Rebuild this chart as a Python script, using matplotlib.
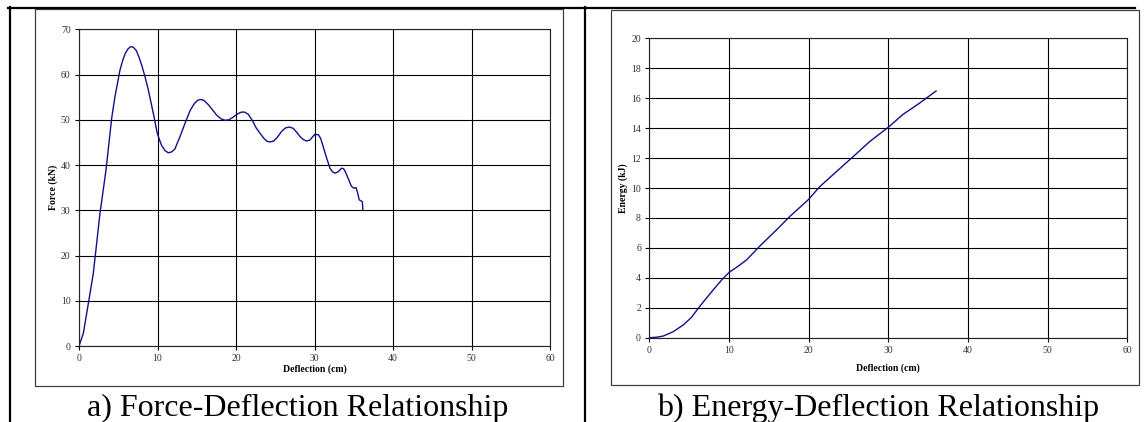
import matplotlib
matplotlib.use("Agg")
import matplotlib.pyplot as plt
from matplotlib.lines import Line2D
from matplotlib.patches import Rectangle

# force-deflection test record (cm, kN)
defl_force = [0.0, 0.55, 1.19, 1.82, 2.67, 3.44, 4.16, 4.58, 5.22, 5.6, 5.9, 6.25,
              6.62, 6.95, 7.3, 7.65, 7.98, 8.4, 8.83, 9.47, 9.97, 10.5, 10.95,
              11.38, 11.8, 12.2, 12.87, 13.5, 14.14, 14.7, 15.1, 15.5, 15.9, 16.5,
              17.0, 17.5, 18.1, 18.6, 19.1, 19.65, 20.2, 20.7, 21.1, 21.57, 22.1,
              22.6, 23.5, 23.9, 24.3, 24.8, 25.2, 25.8, 26.3, 26.8, 27.3, 27.7,
              28.15, 28.6, 29.0, 29.4, 29.8, 30.06, 30.5, 30.8, 31.1, 31.5, 31.97,
              32.3, 32.6, 33.0, 33.45, 33.7, 33.9, 34.3, 34.7, 35.0, 35.3, 35.5,
              35.7, 36.1, 36.15]
force = [0.0, 2.8, 9.4, 16.0, 29.3, 38.9, 50.3, 55.1, 61.0, 63.3, 64.7, 65.7,
         66.2, 66.0, 65.3, 63.8, 62.1, 59.6, 56.6, 51.4, 47.0, 44.4, 43.2,
         42.7, 42.9, 43.5, 46.3, 49.2, 52.0, 53.6, 54.3, 54.5, 54.3, 53.3,
         52.2, 51.1, 50.2, 49.9, 50.0, 50.6, 51.3, 51.7, 51.7, 51.2, 49.8,
         48.1, 46.0, 45.3, 45.1, 45.3, 46.0, 47.4, 48.2, 48.4, 48.1, 47.3,
         46.3, 45.6, 45.3, 45.5, 46.3, 46.8, 46.7, 45.8, 44.1, 41.8, 39.3,
         38.5, 38.2, 38.5, 39.3, 39.2, 38.6, 37.0, 35.3, 34.9, 35.0, 33.8,
         32.3, 31.9, 30.2]

# absorbed energy (cm, kJ)
defl_energy = [0.0, 0.9, 1.75, 3.0, 4.26, 5.3, 6.14, 6.98, 8.02, 9.07, 10.03,
               10.95, 12.2, 13.87, 15.96, 17.6, 19.92, 21.4, 23.5, 25.6, 27.66,
               30.1, 31.8, 33.9, 36.0]
energy = [0.0, 0.03, 0.11, 0.4, 0.85, 1.36, 1.96, 2.52, 3.19, 3.85, 4.37,
          4.7, 5.19, 6.12, 7.2, 8.08, 9.2, 10.09, 11.1, 12.1, 13.1,
          14.1, 14.9, 15.66, 16.48]

captions = ["a) Force-Deflection Relationship", "b) Energy-Deflection Relationship"]

W, H = 1147, 422
plt.rcParams['font.family'] = ['Liberation Serif', 'DejaVu Serif']

fig = plt.figure(figsize=(W / 100, H / 100), dpi=100)


def box(x0, y0, x1, y1):
    # pixel box (top-left origin) -> figure fraction rect
    return [x0 / W, 1 - y1 / H, (x1 - x0) / W, (y1 - y0) / H]


def px_line(xs, ys, lw, color="black"):
    fig.add_artist(Line2D([x / W for x in xs], [1 - y / H for y in ys],
                          lw=lw, color=color, transform=fig.transFigure))


# table rules
px_line([8, 1135], [7.5, 7.5], 1.6)
px_line([9.5, 9.5], [7, 422], 1.6)
px_line([584.5, 584.5], [7, 422], 1.6)

# chart area frames
for x0, y0, x1, y1 in [(35, 9, 562.7, 386), (611, 10, 1139, 385)]:
    fig.add_artist(Rectangle((x0 / W, 1 - y1 / H), (x1 - x0) / W, (y1 - y0) / H,
                             fill=False, lw=0.9, edgecolor="#404040",
                             transform=fig.transFigure))

ax1 = fig.add_axes(box(79, 29.3, 550, 346))
ax2 = fig.add_axes(box(649.3, 38.3, 1127.3, 337.7))

ax1.plot(defl_force, force, color="#10108a", lw=1.0)
ax2.plot(defl_energy, energy, color="#10108a", lw=1.0)

ax1.set_ylim(0, 70)
ax1.set_yticks(range(0, 71, 10))
ax2.set_ylim(0, 20)
ax2.set_yticks(range(0, 21, 2))
ax1.set_ylabel("Force (kN)", fontsize=7, fontweight="bold", labelpad=2)
ax2.set_ylabel("Energy (kJ)", fontsize=7, fontweight="bold", labelpad=2)

for ax in (ax1, ax2):
    ax.set_xlim(0, 60)
    ax.set_xticks(range(0, 61, 10))
    ax.grid(True, color="black", lw=0.8)
    ax.set_axisbelow(True)
    for s in ax.spines.values():
        s.set_color("#222222")
        s.set_linewidth(0.8)
    ax.tick_params(direction="out", length=3, width=0.8, labelsize=7,
                   labelcolor="#333333", pad=3)
    ax.set_xlabel("Deflection (cm)", fontsize=7, fontweight="bold", labelpad=1)

ax1.xaxis.labelpad = 1
ax2.xaxis.labelpad = 6

fig.text(297.5 / W, 1 - 416 / H, captions[0], fontsize=23,
         ha="center", va="baseline")
fig.text(878 / W, 1 - 416 / H, captions[1], fontsize=23,
         ha="center", va="baseline")

fig.savefig("out.png", dpi=100)
